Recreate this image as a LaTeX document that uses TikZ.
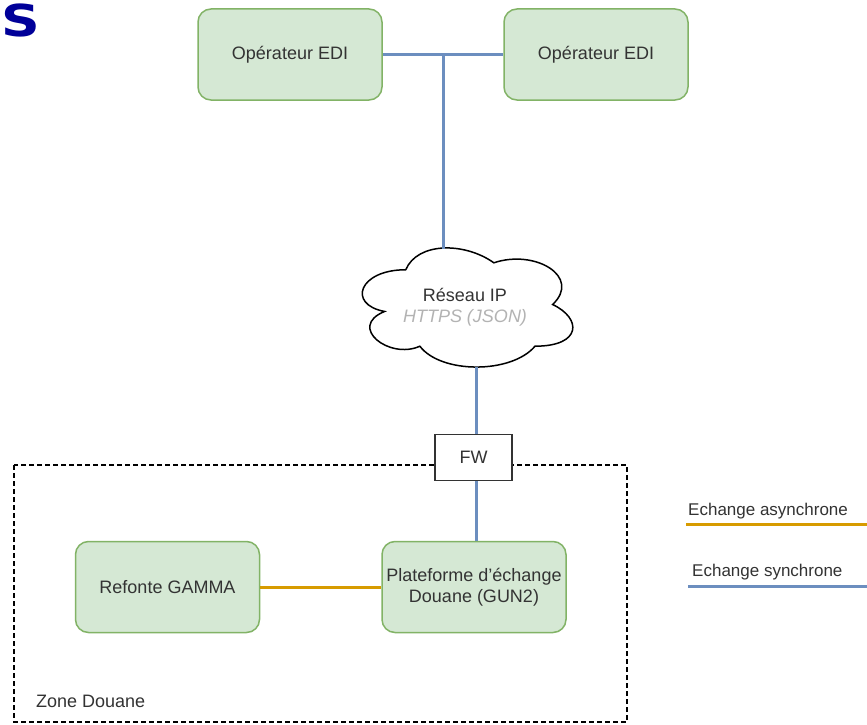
\documentclass[tikz,border=0pt]{standalone}
\usepackage{fontspec}
\usepackage{graphicx}
\setmainfont{Liberation Sans}
\newfontfamily\titlefont{DejaVu Sans}
\definecolor{boxfill}{HTML}{D5E8D4}
\definecolor{boxline}{HTML}{82B366}
\definecolor{syncblue}{HTML}{6C8EBF}
\definecolor{asyncorange}{HTML}{D79B00}
\definecolor{titleblue}{RGB}{0,0,153}
\definecolor{txtgrey}{HTML}{B3B3B3}
\definecolor{txt}{HTML}{333333}
\begin{document}
\begin{tikzpicture}[x=1pt,y=-1pt,
  greenbox/.style={draw=boxline,fill=boxfill,line width=1.5pt,rounded corners=13pt,
    minimum width=184pt,minimum height=91pt,inner sep=0pt,align=center,
    font=\fontsize{18}{21}\selectfont,text=txt},
  syncline/.style={draw=syncblue,line width=3pt},
  asyncline/.style={draw=asyncorange,line width=3pt},
  fwbox/.style={draw=black!80,line width=1.5pt,fill=white,minimum width=77pt,minimum height=46pt,
    inner sep=0pt,font=\fontsize{18}{21}\selectfont,text=txt},
  plaintext/.style={inner sep=0pt,font=\fontsize{18}{21}\selectfont,text=txt},
  legendtext/.style={inner sep=0pt,anchor=south west,font=\fontsize{17}{20}\selectfont,text=txt},
]
\useasboundingbox (0,0) rectangle (867,725);
\fill[white] (0,0) rectangle (867,725);

% title fragment
\begin{scope}
\clip (0,0) rectangle (867,725);
\node[anchor=base east,inner sep=0pt,text=titleblue,
  font=\titlefont\bfseries\fontsize{44}{50}\selectfont] (title) at (40.5,37) {\scalebox{1.22}[1]{ES}};
\end{scope}

% zone douane
\draw[line width=1.3pt,dash pattern=on 5pt off 3pt] (14,465) rectangle (627,722);
\node[plaintext,anchor=west] (zone) at (36,701) {Zone Douane};

% cloud (drawio cloud shape in box x 347..582, y 235..374)
\begin{scope}[shift={(347,235)},x=235pt,y=-139pt]
\draw[line width=1.5pt,fill=white]
  (0.25,0.25) .. controls (0.05,0.25) and (0,0.5) .. (0.16,0.55)
  .. controls (0,0.66) and (0.18,0.9) .. (0.31,0.8)
  .. controls (0.4,1) and (0.7,1) .. (0.8,0.8)
  .. controls (1,0.8) and (1,0.6) .. (0.875,0.5)
  .. controls (1,0.3) and (0.8,0.1) .. (0.625,0.2)
  .. controls (0.5,0.05) and (0.3,0.05) .. (0.25,0.25) -- cycle;
\end{scope}
\node[align=center,inner sep=0pt,font=\fontsize{18}{21}\selectfont,text=txt] (cloud) at (465,307)
  {Réseau IP\\{\itshape\color{txtgrey}HTTPS (JSON)}};
\coordinate (ctop) at (443,249);
\coordinate (cbot) at (476,367);

% nodes
\node[greenbox] (op1) at (290,54.5) {Opérateur EDI};
\node[greenbox] (op2) at (596,54.5) {Opérateur EDI};
\node[greenbox] (gamma) at (167.5,587) {Refonte GAMMA};
\node[greenbox] (gun) at (474,587) {Plateforme d'échange\\Douane (GUN2)};
\node[fwbox] (fw) at (473.5,457.5) {FW};

% connectors
\coordinate (junc) at (443,54.5);
\draw[syncline] (op1.east) -- (op2.west);
\draw[syncline] (junc) -- (ctop);
\draw[syncline] (cbot) -- (cbot |- fw.north);
\draw[syncline] (cbot |- fw.south) -- (cbot |- gun.north);
\draw[asyncline] (gamma.east) -- (gun.west);

% legend
\coordinate (la1) at (686,524);
\coordinate (la2) at (867,524);
\coordinate (ls1) at (688,586);
\coordinate (ls2) at (867,586);
\draw[asyncline] (la1) -- (la2);
\draw[syncline] (ls1) -- (ls2);
\node[legendtext] (lasync) at (688,519) {Echange asynchrone};
\node[legendtext] (lsync) at (692,580) {Echange synchrone};
\end{tikzpicture}
\end{document}
